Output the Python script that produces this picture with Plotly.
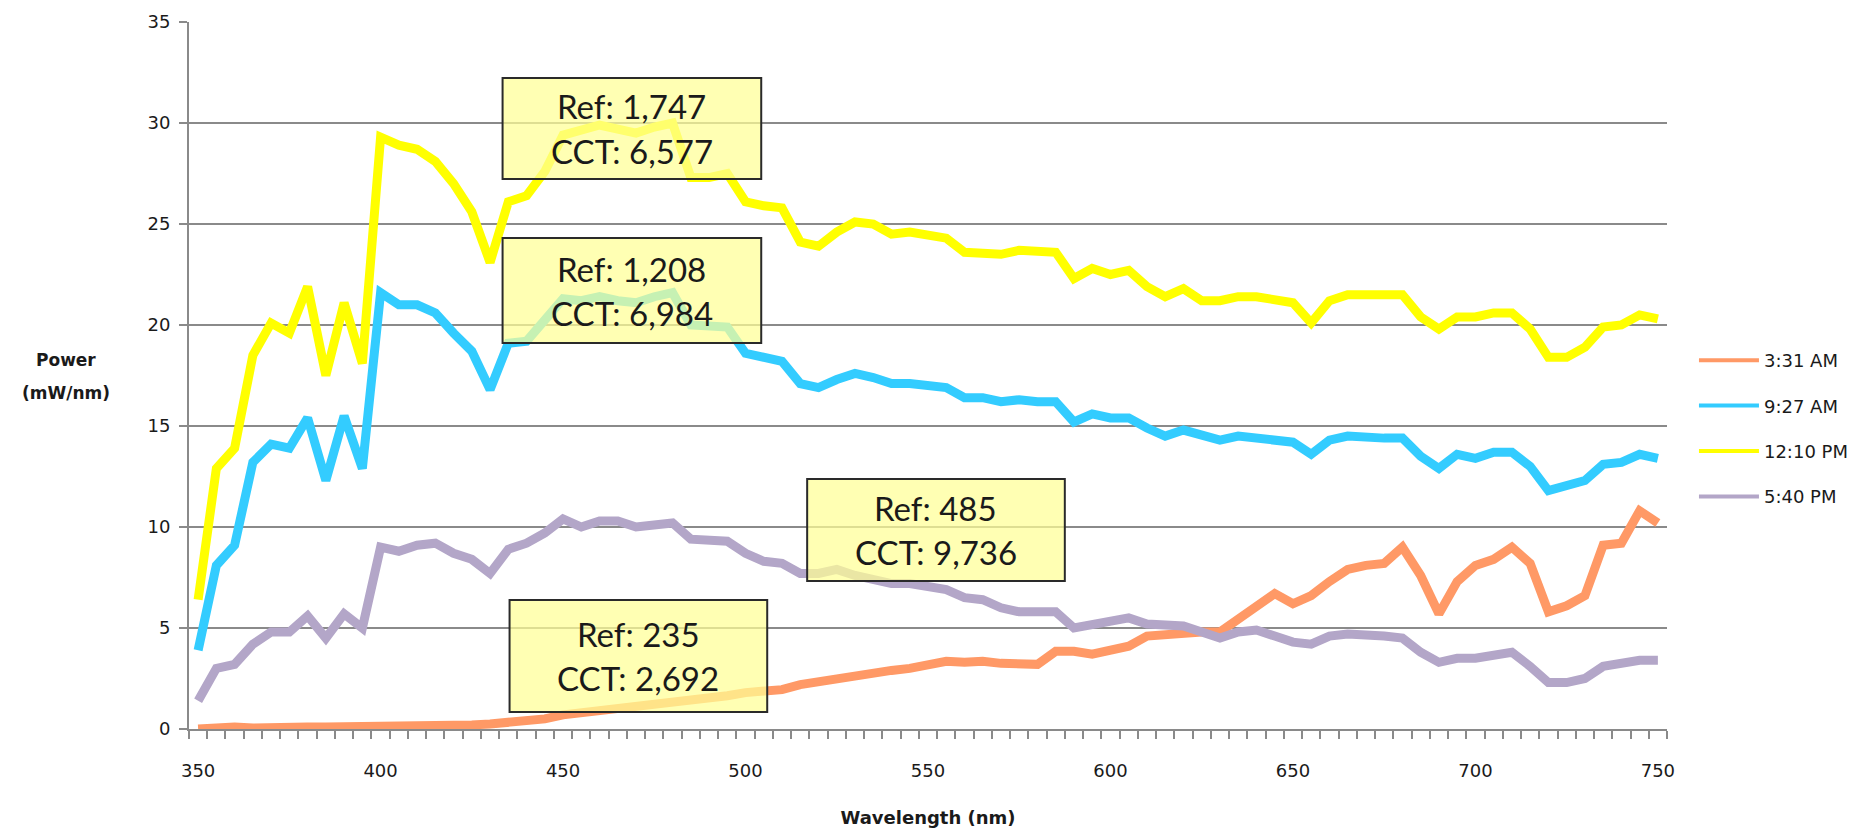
import plotly.graph_objects as go

# wavelength categories (nm), one sample every 5 nm
WAVELENGTH = list(range(350, 755, 5))

POWER_0331 = [0.0, 0.1, 0.1, 0.05, 0.1, 0.05, 0.1, 0.1, 0.1, 0.1,
              0.1, 0.1, 0.15, 0.15, 0.2, 0.2, 0.25, 0.3, 0.4, 0.5,
              0.7, 0.8, 0.85, 0.95, 1.05, 1.15, 1.25, 1.35, 1.5, 1.65,
              1.8, 1.9, 1.95, 2.2, 2.35, 2.55, 2.7, 2.8, 2.9, 3.0,
              3.2, 3.35, 3.3, 3.35, 3.25, 3.2, 3.2, 3.85, 3.85, 3.7,
              3.9, 4.1, 4.6, 4.7, 4.7, 4.8, 4.8, 5.4, 6.0, 6.7,
              6.2, 6.6, 7.3, 7.9, 8.1, 8.2, 9.0, 7.6, 5.7, 7.3,
              8.1, 8.4, 9.0, 8.2, 5.8, 6.1, 6.6, 9.1, 9.2, 10.8, 10.2]

POWER_0927 = [3.9, 8.1, 9.1, 13.2, 14.1, 13.9, 15.4, 12.3, 15.5, 12.9,
              21.6, 21.0, 21.0, 20.6, 19.6, 18.7, 16.8, 19.1, 19.2, 20.3,
              21.3, 21.2, 21.4, 21.2, 21.1, 21.4, 21.6, 20.0, 20.0, 19.9,
              18.6, 18.4, 18.2, 17.1, 16.9, 17.3, 17.6, 17.4, 17.1, 17.1,
              17.0, 16.9, 16.4, 16.4, 16.2, 16.3, 16.2, 16.2, 15.2, 15.6,
              15.4, 15.4, 14.9, 14.5, 14.8, 14.5, 14.3, 14.5, 14.4, 14.4,
              14.2, 13.6, 14.3, 14.5, 14.4, 14.4, 14.4, 13.5, 12.9, 13.6,
              13.4, 13.7, 13.7, 13.0, 11.8, 12.0, 12.3, 13.1, 13.2, 13.6, 13.4]

POWER_1210 = [6.4, 12.9, 13.9, 18.5, 20.1, 19.6, 21.9, 17.5, 21.1, 18.1,
              29.3, 28.9, 28.7, 28.1, 27.0, 25.6, 23.1, 26.1, 26.4, 27.6,
              29.4, 29.6, 29.9, 29.7, 29.5, 29.8, 30.0, 27.3, 27.3, 27.5,
              26.1, 25.9, 25.8, 24.1, 23.9, 24.6, 25.1, 25.0, 24.5, 24.6,
              24.5, 24.3, 23.6, 23.6, 23.5, 23.7, 23.6, 23.6, 22.3, 22.8,
              22.5, 22.7, 21.9, 21.4, 21.8, 21.2, 21.2, 21.4, 21.4, 21.3,
              21.1, 20.1, 21.2, 21.5, 21.5, 21.5, 21.5, 20.4, 19.8, 20.4,
              20.4, 20.6, 20.6, 19.8, 18.4, 18.4, 18.9, 19.9, 20.0, 20.5, 20.3]

POWER_1740 = [1.4, 3.0, 3.2, 4.2, 4.8, 4.8, 5.6, 4.5, 5.7, 5.0,
              9.0, 8.8, 9.1, 9.2, 8.7, 8.4, 7.7, 8.9, 9.2, 9.7,
              10.4, 10.0, 10.3, 10.3, 10.0, 10.1, 10.2, 9.4, 9.4, 9.3,
              8.7, 8.3, 8.2, 7.7, 7.7, 7.9, 7.6, 7.4, 7.2, 7.2,
              7.1, 6.9, 6.5, 6.4, 6.0, 5.8, 5.8, 5.8, 5.0, 5.2,
              5.4, 5.5, 5.2, 5.1, 5.1, 4.8, 4.5, 4.8, 4.9, 4.6,
              4.3, 4.2, 4.6, 4.7, 4.7, 4.6, 4.5, 3.8, 3.3, 3.5,
              3.5, 3.6, 3.8, 3.1, 2.3, 2.3, 2.5, 3.1, 3.3, 3.4, 3.4]

SERIES_NAMES = ["3:31 AM", "9:27 AM", "12:10 PM", "5:40 PM"]
SERIES_COLORS = ["#FF9966", "#33CCFF", "#FFFF00", "#B3A6C8"]

# text boxes: (line 1, line 2)
BOX_TEXT = [("Ref: 1,747", "CCT: 6,577"),
            ("Ref: 1,208", "CCT: 6,984"),
            ("Ref: 485", "CCT: 9,736"),
            ("Ref: 235", "CCT: 2,692")]

# the page body has an 8px margin, so the figure is drawn 8px in from the corner
PAGE_OFF = 8
W, H = 1865 - PAGE_OFF, 832 - PAGE_OFF
# plot area in screen pixels
L, R, T, B = 189, 1669, 22, 729
GRID = "#8A8A8A"
TEXT = "#1A1A1A"
FONT = "DejaVu Sans"


def px(xp):
    return (xp - L) / (R - L)


def py(yp):
    return (B - yp) / (B - T)


fig = go.Figure()
for name, color, vals in zip(SERIES_NAMES, SERIES_COLORS,
                             [POWER_0331, POWER_0927, POWER_1210, POWER_1740]):
    fig.add_trace(go.Scatter(
        x=WAVELENGTH, y=vals, mode="lines", name=name,
        line=dict(color=color, width=9), showlegend=False,
        hovertemplate="%{x} nm: %{y} mW/nm<extra>" + name + "</extra>",
    ))
# thinner lines for the legend keys
for name, color in zip(SERIES_NAMES, SERIES_COLORS):
    fig.add_trace(go.Scatter(
        x=[None], y=[None], mode="lines", name=name, legendgroup=name,
        line=dict(color=color, width=4), hoverinfo="skip",
    ))

# box pixel frames (left, right, top, bottom)
box_frames = [(503, 762, 78, 179), (503, 762, 238, 343),
              (808, 1066, 479, 581), (510, 768, 600, 712)]
shapes, annotations = [], []
for (x0, x1, y0, y1), lines in zip(box_frames, BOX_TEXT):
    shapes.append(dict(
        type="rect", xref="paper", yref="paper", layer="above",
        x0=px(x0), x1=px(x1), y0=py(y1), y1=py(y0),
        fillcolor="rgba(255,255,150,0.72)",
        line=dict(color="#2A2A2A", width=2),
    ))
    cx = (x0 + x1) / 2
    cy = (y0 + y1) / 2
    for k, txt in enumerate(lines):
        annotations.append(dict(
            text=txt, xref="paper", yref="paper", showarrow=False,
            x=px(cx), y=py(cy - 22 + 44 * k), xanchor="center", yanchor="middle",
            font=dict(family="Lato", size=33, color=TEXT),
        ))

for txt, yp in [("<b>Power</b>", 360), ("<b>(mW/nm)</b>", 393)]:
    annotations.append(dict(
        text=txt, xref="paper", yref="paper", showarrow=False,
        x=px(66), y=py(yp), xanchor="center", yanchor="middle",
        font=dict(family=FONT, size=17, color=TEXT),
    ))

fig.update_layout(
    width=W, height=H,
    paper_bgcolor="white", plot_bgcolor="white",
    margin=dict(l=L - PAGE_OFF, r=W - (R - PAGE_OFF), t=T - PAGE_OFF, b=H - (B - PAGE_OFF)),
    font=dict(family=FONT, size=18, color=TEXT),
    showlegend=True,
    legend=dict(
        x=px(1696), y=py(342), xanchor="left", yanchor="top",
        font=dict(family=FONT, size=18, color=TEXT),
        traceorder="grouped", tracegroupgap=19, itemwidth=60,
        bgcolor="rgba(0,0,0,0)",
    ),
    xaxis=dict(
        range=[347.5, 752.5], tickmode="linear", tick0=350, dtick=50,
        ticks="", showgrid=False, zeroline=False, automargin=False,
        showline=True, linecolor=GRID, linewidth=2,
        ticklabelstandoff=24,
        tickfont=dict(family=FONT, size=18, color=TEXT),
        minor=dict(ticks="outside", ticklen=8, tickwidth=1.5, tickcolor=GRID,
                   tick0=347.5, dtick=5, showgrid=False),
        title=dict(text="<b>Wavelength (nm)</b>", standoff=32,
                   font=dict(family=FONT, size=18, color=TEXT)),
    ),
    yaxis=dict(
        range=[0, 35], tickmode="linear", tick0=0, dtick=5, automargin=False,
        ticks="outside", ticklen=8, tickwidth=1.5, tickcolor=GRID,
        showgrid=True, gridcolor=GRID, gridwidth=1.5, zeroline=False,
        showline=True, linecolor=GRID, linewidth=2,
        ticklabelstandoff=5,
        tickfont=dict(family=FONT, size=18, color=TEXT),
    ),
    shapes=shapes,
    annotations=annotations,
)

fig.write_html("out.html")
